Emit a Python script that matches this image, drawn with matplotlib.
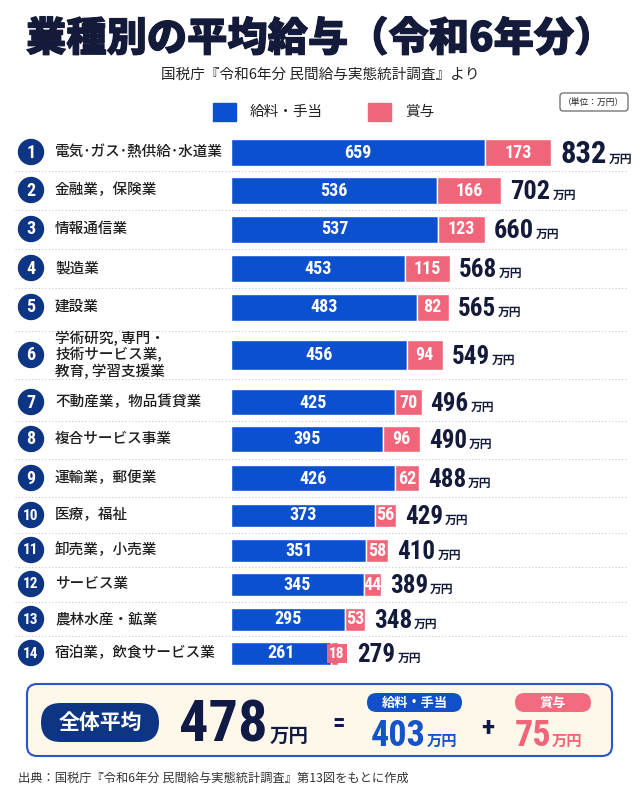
import matplotlib
matplotlib.use("Agg")
import matplotlib.pyplot as plt
import matplotlib.patheffects as pe
from matplotlib import font_manager
from matplotlib.patches import Circle, FancyBboxPatch, Rectangle

# ------------------------------------------------------------------
# Data (国税庁 民間給与実態統計調査, 令和6年分, 単位: 万円)
# ------------------------------------------------------------------
categories = [
    "電気･ガス･熱供給･水道業",
    "金融業，保険業",
    "情報通信業",
    "製造業",
    "建設業",
    "学術研究, 専門・\n技術サービス業,\n教育, 学習支援業",
    "不動産業，物品賃貸業",
    "複合サービス事業",
    "運輸業，郵便業",
    "医療，福祉",
    "卸売業，小売業",
    "サービス業",
    "農林水産・鉱業",
    "宿泊業，飲食サービス業",
]
salary = [659, 536, 537, 453, 483, 456, 425, 395, 426, 373, 351, 345, 295, 261]
bonus = [173, 166, 123, 115, 82, 94, 70, 96, 62, 56, 58, 44, 53, 18]
totals = [832, 702, 660, 568, 565, 549, 496, 490, 488, 429, 410, 389, 348, 279]

avg_total = 478
avg_salary = 403
avg_bonus = 75

# ------------------------------------------------------------------
# Layout / style
# ------------------------------------------------------------------
row_y = [152, 190, 229, 268, 307, 355, 402, 439, 478, 515, 550, 584, 619, 653]
bar_h = [27, 27, 27, 27, 27, 30, 26, 26, 26, 23, 23, 23, 23, 23]
total_fs = [22, 19, 19, 18, 18, 18, 18, 18, 18, 18, 18, 18, 18, 18]

BLUE = "#0b50cf"
PINK = "#f06579"
NAVY = "#0d3583"
INK = "#141a3a"

JP = ["Noto Sans CJK JP", "DejaVu Sans"]
names = {f.name for f in font_manager.fontManager.ttflist}
NUM = "Roboto Condensed" if "Roboto Condensed" in names else "Roboto"

PX_PER_UNIT = 0.385
BAR_X0 = 231

fig = plt.figure(figsize=(6.4, 8), dpi=100)
fig.patch.set_facecolor("white")

# full-figure axes in pixel units for decorations
bg = fig.add_axes([0, 0, 1, 1])
bg.set_xlim(0, 640)
bg.set_ylim(800, 0)
bg.axis("off")

# bar axes: x in 万円, y in pixel rows
ax = fig.add_axes([BAR_X0 / 640, 0, (640 - BAR_X0) / 640, 1])
ax.set_xlim(0, (640 - BAR_X0) / PX_PER_UNIT)
ax.set_ylim(800, 0)
ax.axis("off")
ax.patch.set_alpha(0)

# ---- title block ----
bg.text(320, 39, "業種別の平均給与（令和6年分）", ha="center", va="center",
        fontsize=29, fontweight="heavy", color=INK, family=JP,
        path_effects=[pe.withStroke(linewidth=0.8, foreground=INK)])
bg.text(320, 75, "国税庁『令和6年分 民間給与実態統計調査』より", ha="center",
        va="center", fontsize=10.5, color="#222222", family=JP)

# ---- legend ----
bg.add_patch(Rectangle((213, 103), 23, 18, color=BLUE))
bg.text(250, 112, "給料・手当", va="center", fontsize=10.5, color="#222222", family=JP)
bg.add_patch(Rectangle((368, 103), 23, 18, color=PINK))
bg.text(405, 112, "賞与", va="center", fontsize=10.5, color="#222222", family=JP)
bg.add_patch(FancyBboxPatch((560, 93), 68, 18, boxstyle="round,pad=0,rounding_size=3",
                            fc="white", ec="#555555", lw=0.8))
bg.text(594, 102, "（単位：万円）", ha="center", va="center", fontsize=6.3,
        color="#222222", family=JP)

# ---- separators ----
for a, b in zip(row_y[:-1], row_y[1:]):
    bg.plot([15, 628], [(a + b) / 2] * 2, ls=(0, (1, 2)), lw=0.8, color="#c8c8c8")

# ---- row labels ----
for i, (y, cat) in enumerate(zip(row_y, categories)):
    bg.add_patch(Circle((31, y), 12.5, color=NAVY))
    num = str(i + 1)
    bg.text(31, y + 0.5, num, ha="center", va="center", color="white",
            fontsize=13 if len(num) == 1 else 11, fontweight="bold", family=NUM)
    bg.text(55, y, cat, ha="left", va="center", fontsize=10.5, fontweight="medium",
            color="#1e1e1e", family=JP, linespacing=1.12)

# ---- bars ----
ax.barh(row_y, salary, height=bar_h, color=BLUE, edgecolor="white", linewidth=1)
ax.barh(row_y, bonus, left=salary, height=bar_h, color=PINK, edgecolor="white", linewidth=1)

extra = []
for y, s, b, h in zip(row_y, salary, bonus, bar_h):
    ax.text(s / 2, y + 0.5, str(s), ha="center", va="center", color="white",
            fontsize=13, fontweight="bold", family=NUM)
    if b * PX_PER_UNIT < 16:
        # segment too narrow for its label: give the label a pink backing
        ax.text(s + b / 2 + 2 / PX_PER_UNIT, y + 0.5, str(b), ha="center", va="center",
                color="white", fontsize=11, fontweight="bold", family=NUM,
                bbox=dict(boxstyle="square,pad=0.15", fc=PINK, ec="none"))
        extra.append(10 / PX_PER_UNIT)
    else:
        ax.text(s + b / 2, y + 0.5, str(b), ha="center", va="center", color="white",
                fontsize=13, fontweight="bold", family=NUM)
        extra.append(0)

total_texts = []
gap = 9 / PX_PER_UNIT
for y, s, b, t, fs, ex in zip(row_y, salary, bonus, totals, total_fs, extra):
    cap = fs * 100 / 72 * 0.71
    txt = ax.text(s + b + gap + ex, y + cap / 2, str(t), ha="left", va="baseline",
                  color=INK, fontsize=fs, fontweight="bold", family=NUM)
    total_texts.append((txt, y + cap / 2))

fig.canvas.draw()
renderer = fig.canvas.get_renderer()
for txt, base in total_texts:
    bb = txt.get_window_extent(renderer)
    bg.text(bb.x1 + 2, base, "万円", ha="left", va="baseline", fontsize=8.5,
            fontweight="bold", color=INK, family=JP)

# ---- overall average box ----
bg.add_patch(FancyBboxPatch((27, 684), 585, 72, boxstyle="round,pad=0,rounding_size=10",
                            fc="#fdf8ea", ec="#2a55c4", lw=1.5))
bg.add_patch(FancyBboxPatch((41, 703), 118, 39, boxstyle="round,pad=0,rounding_size=19.5",
                            fc=NAVY, ec="none"))
bg.text(100, 722.5, "全体平均", ha="center", va="center", color="white",
        fontsize=15, fontweight="bold", family=JP)

bg.text(268, 742, str(avg_total), ha="right", va="baseline", color="#111a44",
        fontsize=42, fontweight="bold", family=NUM)
bg.text(270, 742, "万円", ha="left", va="baseline", color="#111a44",
        fontsize=14, fontweight="bold", family=JP)
bg.text(339, 724, "=", ha="center", va="center", color="#111a44",
        fontsize=18, fontweight="bold", family=NUM)

bg.add_patch(FancyBboxPatch((367, 693), 95, 19, boxstyle="round,pad=0,rounding_size=9.5",
                            fc="#1150c8", ec="none"))
bg.text(414.5, 702.5, "給料・手当", ha="center", va="center", color="white",
        fontsize=9.5, fontweight="bold", family=JP)
bg.text(426, 746, str(avg_salary), ha="right", va="baseline", color="#1553c8",
        fontsize=26, fontweight="bold", family=NUM)
bg.text(427, 746, "万円", ha="left", va="baseline", color="#1553c8",
        fontsize=11, fontweight="bold", family=JP)

bg.text(488, 728, "+", ha="center", va="center", color="#111a44",
        fontsize=20, fontweight="bold", family=NUM)

bg.add_patch(FancyBboxPatch((515, 693), 76, 19, boxstyle="round,pad=0,rounding_size=9.5",
                            fc="#f26b7f", ec="none"))
bg.text(553, 702.5, "賞与", ha="center", va="center", color="white",
        fontsize=9.5, fontweight="bold", family=JP)
bg.text(551, 746, str(avg_bonus), ha="right", va="baseline", color=PINK,
        fontsize=26, fontweight="bold", family=NUM)
bg.text(552, 746, "万円", ha="left", va="baseline", color=PINK,
        fontsize=11, fontweight="bold", family=JP)

# ---- footer ----
bg.text(18, 778, "出典：国税庁『令和6年分 民間給与実態統計調査』第13図をもとに作成",
        ha="left", va="center", fontsize=8.8, color="#333333", family=JP)

fig.savefig("out.png", dpi=100, facecolor="white")
